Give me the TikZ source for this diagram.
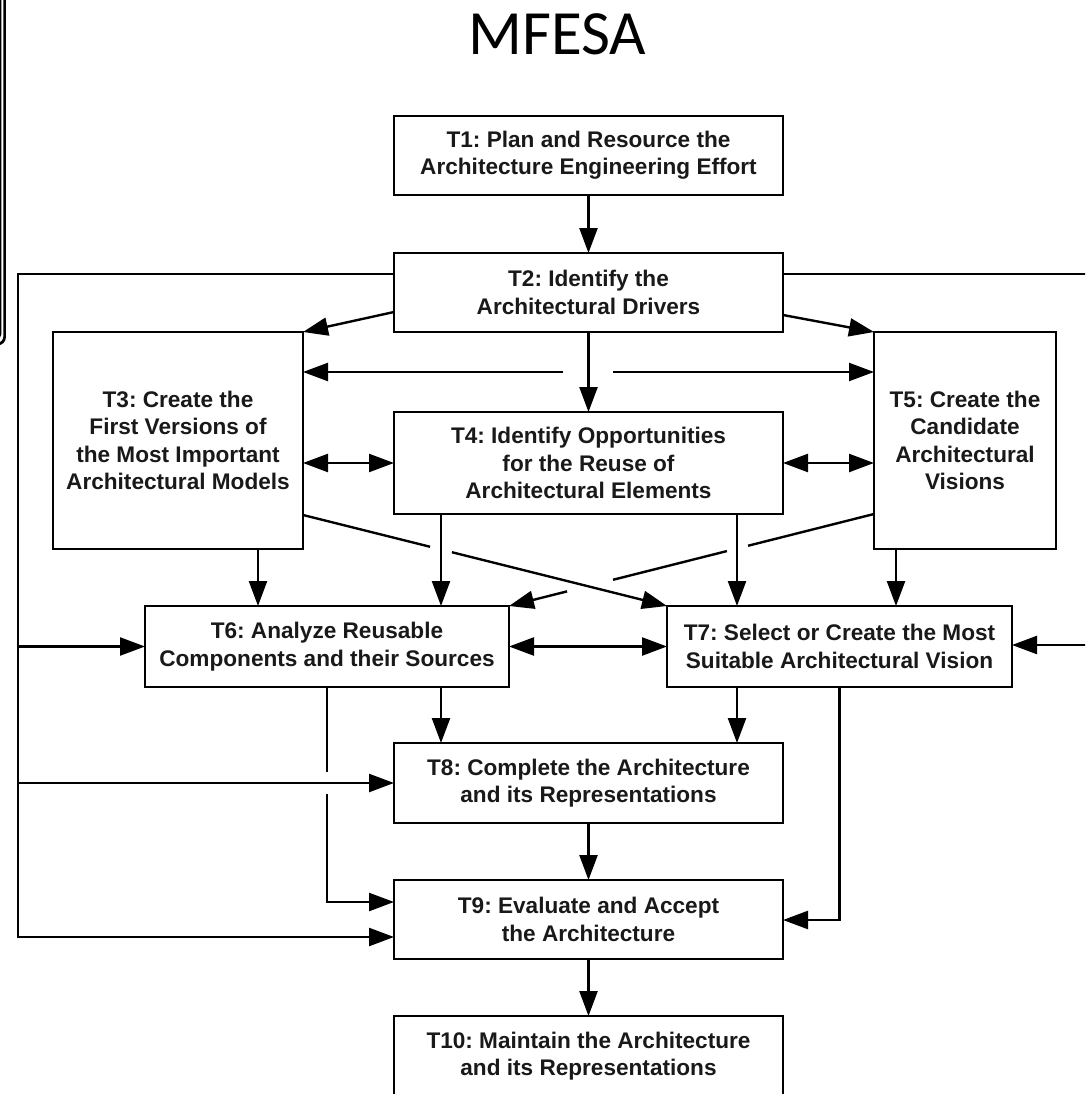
\documentclass[tikz,border=0pt]{standalone}
\usepackage{fontspec}
\setmainfont{Liberation Sans}
\newfontfamily\titlefont{Carlito}
\usetikzlibrary{arrows.meta,calc}
\frenchspacing
\begin{document}
\begin{tikzpicture}[x=1pt,y=-1pt,
  box/.style={draw=black, line width=2.6pt, rectangle, inner sep=0pt, outer sep=0pt,
    align=center, text=black!90, font=\fontsize{22.6}{27.3}\selectfont\bfseries},
  conn/.style={line width=2.4pt, draw=black},
  arr/.style={conn, -{Triangle[length=25pt,width=18pt]}},
  darr/.style={conn, {Triangle[length=25pt,width=18pt]}-{Triangle[length=25pt,width=18pt]}},
  frameline/.style={draw=black}
]
\useasboundingbox (0,0) rectangle (1085,1094);
\clip (0,0) rectangle (1085,1094);

% partial frame at left
\draw[frameline, line width=1.3pt, rounded corners=5pt] (-40,-40) rectangle (0.8,339);
\draw[frameline, line width=2.7pt, rounded corners=7pt] (-40,-40) rectangle (4.6,344);

\node[font=\titlefont\fontsize{63}{63}\selectfont, anchor=base, text=black] (title) at (557.5,55) {MFESA};

\node[box, minimum width=389pt, minimum height=79pt] (T1) at (588.5,155.5) {T1: Plan and Resource the\\Architecture Engineering Effort};
\node[box, minimum width=389pt, minimum height=79pt] (T2) at (588.5,292.5) {T2: Identify the\\Architectural Drivers};
\node[box, minimum width=250pt, minimum height=217pt] (T3) at (178,440.5) {T3: Create the\\First Versions of\\the Most Important\\Architectural Models};
\node[box, minimum width=389pt, minimum height=102pt] (T4) at (588.5,463) {T4: Identify Opportunities\\for the Reuse of\\Architectural Elements};
\node[box, minimum width=182pt, minimum height=217pt] (T5) at (965,440.5) {T5: Create the\\Candidate\\Architectural\\Visions};
\node[box, minimum width=364pt, minimum height=81pt] (T6) at (327,646.5) {T6: Analyze Reusable\\Components and their Sources};
\node[box, minimum width=345pt, minimum height=81pt] (T7) at (839.5,646.5) {T7: Select or Create the Most\\Suitable Architectural Vision};
\node[box, minimum width=389pt, minimum height=80pt] (T8) at (588.5,783) {T8: Complete the Architecture\\and its Representations};
\node[box, minimum width=389pt, minimum height=79pt] (T9) at (588.5,919.5) {T9: Evaluate and Accept\\the Architecture};
\node[box, minimum width=389pt, minimum height=80pt] (T10) at (588.5,1056) {T10: Maintain the Architecture\\and its Representations};

% helper levels
\coordinate (yA) at (0,274);
\coordinate (yB) at (0,312);
\coordinate (yC) at (0,315);
\coordinate (yE) at (0,515);
\coordinate (yF) at (0,514);
\coordinate (x258) at (258,0);
\coordinate (x441) at (441,0);
\coordinate (x737) at (737,0);
\coordinate (x896) at (896,0);

% vertical main flow
\draw[arr] (T1.south) -- (T2.north);
\draw[arr] (T2.south) -- (T4.north);
\draw[arr] (T8.south) -- (T9.north);
\draw[arr] (T9.south) -- (T10.north);

% left bus from T2
\coordinate (LT) at (18,274);
\coordinate (LB) at (18,937);
\coordinate (L6) at (18,646.5);
\coordinate (L8) at (18,783);
\draw[arr] (T2.west |- yA) -- (LT) -- (LB) -- (T9.west |- LB);
\draw[arr] (L6) -- (T6.west);
\draw[arr] (L8) -- (T8.west);

% right bus from T2 (runs outside the picture)
\coordinate (RT) at (1100,274);
\coordinate (RB) at (1100,645);
\draw[arr] (T2.east |- yA) -- (RT) -- (RB) -- (T7.east |- RB);

% T2 to T3 / T5 corners
\draw[arr] (T2.west |- yB) -- (T3.north east);
\draw[arr] (T2.east |- yC) -- (T5.north west);

% T3 <-> T5 with hop at T2->T4
\coordinate (g1) at (563,372);
\coordinate (g2) at (613,372);
\draw[arr] (g1) -- (T3.east |- g1);
\draw[arr] (g2) -- (T5.west |- g2);

% T3 <-> T4 <-> T5
\draw[darr] (T3.east |- T4.west) -- (T4.west);
\draw[darr] (T4.east) -- (T5.west |- T4.east);

% down to T6 / T7
\draw[arr] (T3.south -| x258) -- (T6.north -| x258);
\draw[arr] (T4.south -| x441) -- (T6.north -| x441);
\draw[arr] (T4.south -| x737) -- (T7.north -| x737);
\draw[arr] (T5.south -| x896) -- (T7.north -| x896);

% diagonal T3 -> T7 with hop
\coordinate (d1s) at (T3.east |- yE);
\draw[conn] (d1s) -- ($(d1s)!0.349!(T7.north west)$);
\draw[arr] ($(d1s)!0.409!(T7.north west)$) -- (T7.north west);

% diagonal T5 -> T6 with hops
\coordinate (d2s) at (T5.west |- yF);
\draw[conn] (d2s) -- ($(d2s)!0.345!(T6.north east)$);
\draw[conn] ($(d2s)!0.403!(T6.north east)$) -- ($(d2s)!0.715!(T6.north east)$);
\draw[arr] ($(d2s)!0.841!(T6.north east)$) -- (T6.north east);

% T6 <-> T7
\draw[darr] (T6.east) -- (T7.west);

% down to T8
\draw[arr] (T6.south -| x441) -- (T8.north -| x441);
\draw[arr] (T7.south -| x737) -- (T8.north -| x737);

% T6 -> T9 with hop
\coordinate (h1) at (327,772);
\coordinate (h2) at (327,794);
\coordinate (h3) at (327,902);
\draw[conn] (T6.south) -- (h1);
\draw[arr] (h2) -- (h3) -- (T9.west |- h3);

% T7 -> T9
\coordinate (k1) at (839.5,920);
\draw[arr] (T7.south) -- (k1) -- (T9.east |- k1);
\end{tikzpicture}
\end{document}
